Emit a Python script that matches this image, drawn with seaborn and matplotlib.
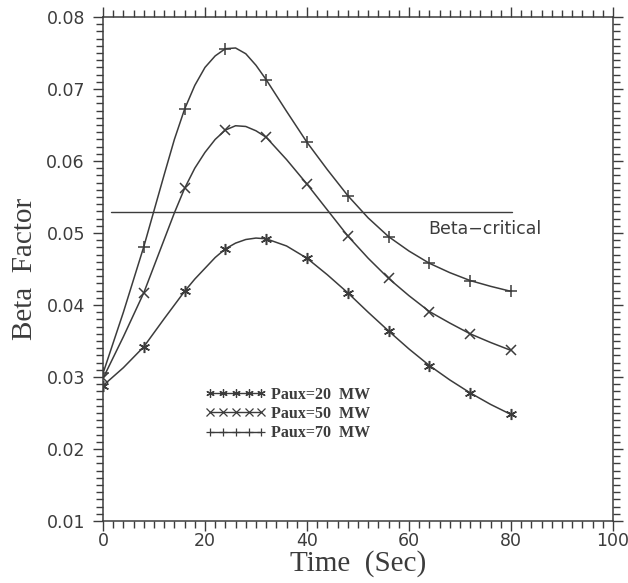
import matplotlib
matplotlib.use('Agg')
import matplotlib.pyplot as plt
from matplotlib.lines import Line2D
from matplotlib.ticker import MultipleLocator, FormatStrFormatter
import pandas as pd
import seaborn as sns

# values; markers sit on the 8 s points
t_curve = [0, 4, 8, 12, 14, 16, 18, 20, 22, 24, 26, 28, 30, 32, 36, 40,
           44, 48, 52, 56, 60, 64, 68, 72, 76, 80]
beta_20 = [0.0288, 0.0313, 0.0342, 0.0381, 0.0400, 0.0419, 0.0436, 0.0451, 0.0466,
           0.0478, 0.0486, 0.0491, 0.0493, 0.0492, 0.0482, 0.0465, 0.0442, 0.0417,
           0.0390, 0.0364, 0.0339, 0.0316, 0.0296, 0.0278, 0.0262, 0.0248]
beta_50 = [0.0298, 0.0356, 0.0417, 0.0491, 0.0528, 0.0562, 0.0590, 0.0612, 0.0630,
           0.0643, 0.0649, 0.0648, 0.0642, 0.0633, 0.0602, 0.0568, 0.0532, 0.0496,
           0.0465, 0.0437, 0.0413, 0.0391, 0.0375, 0.0360, 0.0348, 0.0337]
beta_70 = [0.0305, 0.0390, 0.0481, 0.0581, 0.0630, 0.0672, 0.0705, 0.0730, 0.0746,
           0.0756, 0.0757, 0.0749, 0.0733, 0.0713, 0.0669, 0.0626, 0.0588, 0.0552,
           0.0521, 0.0495, 0.0475, 0.0458, 0.0445, 0.0434, 0.0426, 0.0419]

beta_crit = 0.0529
crit_t = [1.5, 80.2]

labels = ["Paux=20  MW", "Paux=50  MW", "Paux=70  MW"]
markers = [(6, 2, 0), "x", "+"]
msizes = [8, 7, 8.5]

ink = "#3c3c3c"

sns.set_style("ticks")
fig = plt.figure(figsize=(6.28, 5.83), dpi=100)
ax = fig.add_axes([0.164, 0.1063, 0.812, 0.8645])

rows = []
for lab, vals in zip(labels, [beta_20, beta_50, beta_70]):
    for t, b in zip(t_curve, vals):
        rows.append({"t": t, "beta": b, "case": lab})
curve = pd.DataFrame(rows)

sns.lineplot(data=curve, x="t", y="beta", units="case", estimator=None,
             color=ink, lw=1.1, ax=ax, legend=False)

handles = []
for lab, m, ms in zip(labels, markers, msizes):
    pts = curve[(curve["case"] == lab) & (curve["t"] % 8 == 0)]
    ax.plot(pts["t"], pts["beta"], ls="none", marker=m, ms=ms, mew=1.1, color=ink)
    handles.append(Line2D([0], [0], color=ink, lw=1.0, marker=m, ms=6, mew=0.9, label=lab))

ax.plot(crit_t, [beta_crit, beta_crit], color=ink, lw=1.0)
ax.text(63.8, 0.0505, "Beta\u2212critical", fontsize=12.5, color=ink,
        family="DejaVu Sans", va="center", ha="left")

leg = ax.legend(handles=handles, loc="upper left", bbox_to_anchor=(0.173, 0.295),
                numpoints=5, handlelength=3.8, handletextpad=0.3, labelspacing=0.2,
                frameon=False, prop={"family": "Liberation Serif", "weight": "bold", "size": 11.5})
for txt in leg.get_texts():
    txt.set_color(ink)

ax.set_xlim(0, 100)
ax.set_ylim(0.01, 0.08)
ax.xaxis.set_major_locator(MultipleLocator(20))
ax.xaxis.set_minor_locator(MultipleLocator(2))
ax.yaxis.set_major_locator(MultipleLocator(0.01))
ax.yaxis.set_minor_locator(MultipleLocator(0.001))
ax.yaxis.set_major_formatter(FormatStrFormatter("%.2f"))

ax.tick_params(which="both", direction="out", top=True, right=True,
               color=ink, labelcolor=ink, labelsize=12.5, width=1.0)
ax.tick_params(which="major", length=7)
ax.tick_params(which="minor", length=5)
ax.tick_params(axis="x", labeltop=False, pad=1)
ax.tick_params(axis="y", labelright=False, pad=6)
for s in ax.spines.values():
    s.set_visible(True)
    s.set_color(ink)
    s.set_linewidth(1.1)

ax.set_xlabel("Time  (Sec)", family="Liberation Serif", fontsize=21, color=ink, labelpad=0)
ax.set_ylabel("Beta  Factor", family="Liberation Serif", fontsize=21, color=ink, labelpad=6)

fig.savefig("out.png", dpi=100)
